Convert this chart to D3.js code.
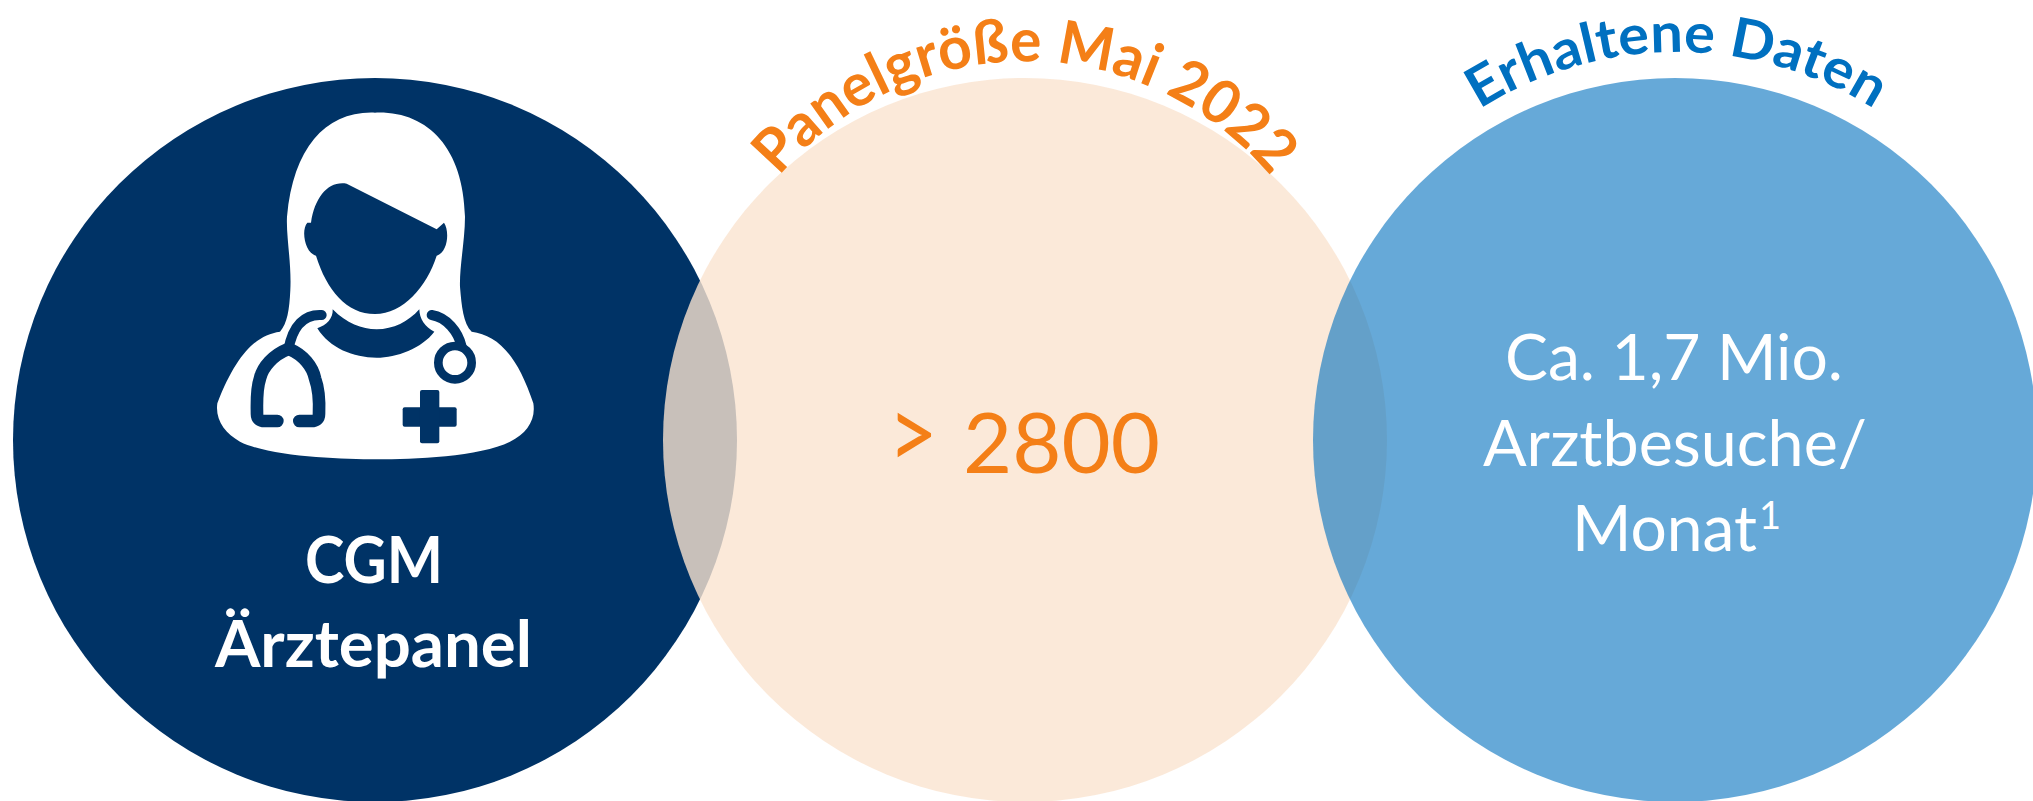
<!DOCTYPE html>
<html lang="de">
<head>
<meta charset="utf-8">
<title>CGM Ärztepanel</title>
<script src="https://cdn.jsdelivr.net/npm/d3@7/dist/d3.min.js"></script>
<style>
html,body{margin:0;padding:0;background:#fff;overflow:hidden}
svg{display:block}
text{font-family:Lato,"Noto Sans",sans-serif}
</style>
</head>
<body>
<div id="chart"></div>
<script>
const categories = ["panel", "size", "data"];
const circleFills = ["#003366", "#FAE3CF", "#0070BE"];
const circleOpacities = [1, 0.8, 0.6];
const arcTitles = ["Panelgröße Mai 2022", "Erhaltene Daten"];
const panelLines = ["CGM", "Ärztepanel"];
const sizeParts = [">", "2800"];
const dataLines = ["Ca. 1,7 Mio.", "Arztbesuche/"];
const monthLine = "Monat";
const footnoteMark = "1";

const W = 2033, H = 801, R = 362, CY = 440;
const svg = d3.select("#chart").append("svg").attr("width", W).attr("height", H).attr("viewBox", [0, 0, W, H]);
const x = d3.scalePoint().domain(categories).range([375, 1675]);

svg.selectAll("circle.venn").data(categories).join("circle")
  .attr("class", "venn")
  .attr("cx", d => x(d)).attr("cy", CY).attr("r", R)
  .attr("fill", (d, i) => circleFills[i])
  .attr("fill-opacity", (d, i) => circleOpacities[i]);

function line(str, left, width, base, size, weight, fill) {
  return svg.append("text").attr("x", left).attr("y", base)
    .attr("font-size", size).attr("font-weight", weight).attr("fill", fill)
    .attr("textLength", width).attr("lengthAdjust", "spacingAndGlyphs").text(str);
}
line(panelLines[0], 305, 138, 583, 65, 700, "#fff");
line(panelLines[1], 215, 317, 667, 65, 700, "#fff");
const s = svg.append("text").attr("y", 473).attr("fill", "#F47F17").attr("font-size", 84);
s.append("tspan").attr("x", 888).attr("y", 469).attr("font-size", 100).attr("textLength", 50).attr("lengthAdjust", "spacingAndGlyphs").text(sizeParts[0]);
s.append("tspan").attr("x", 963).attr("y", 473).attr("textLength", 197).attr("lengthAdjust", "spacingAndGlyphs").text(sizeParts[1]);
line(dataLines[0], 1505, 338, 380, 63, 400, "#fff");
line(dataLines[1], 1483, 384, 466, 63, 400, "#fff");
const m = svg.append("text").attr("y", 551).attr("fill", "#fff").attr("font-size", 63);
m.append("tspan").attr("x", 1572).attr("textLength", 185).attr("lengthAdjust", "spacingAndGlyphs").text(monthLine);
m.append("tspan").attr("x", 1759).attr("y", 529).attr("font-size", 38).text(footnoteMark);

const defs = svg.append("defs");
function arc(id, str, cx, cy, r, half, size, fill, len) {
  const extra = 0.35;
  const a0 = -Math.PI / 2 - half - extra, a1 = -Math.PI / 2 + half + extra;
  const p = d3.path();
  p.arc(cx, cy, r, a0, a1);
  defs.append("path").attr("id", id).attr("d", p.toString());
  svg.append("text").attr("font-size", size).attr("font-weight", 700).attr("fill", fill)
    .append("textPath").attr("href", "#" + id).attr("startOffset", extra * r)
    .attr("textLength", len).attr("lengthAdjust", "spacingAndGlyphs").text(str);
}
arc("a1", arcTitles[0], 1025, 382, 320.6, 0.875, 60, "#F47F17", 561);
arc("a2", arcTitles[1], 1677, 421, 369, 0.565, 55, "#0070C0", 416);

// doctor pictogram, traced in crop units
const icon = svg.append("g").attr("transform", "translate(180,90) scale(0.33333)");
const navy = circleFills[0];
icon.append("path").attr("fill", "#fff").attr("d",
 "M585,68 C440,62 340,170 321,380 C318,440 335,520 331,600 C328,660 322,700 300,725 C230,735 170,790 112,940 C105,990 135,1030 180,1055 C270,1100 480,1108 590,1108 C700,1108 900,1100 990,1055 C1040,1030 1068,990 1060,940 C1010,790 950,735 875,725 C850,700 845,650 840,590 C838,530 855,450 855,380 C850,170 740,62 585,68 Z");
icon.append("path").attr("fill", navy).attr("d",
 "M500,281 L770,418 L792,398 C808,420 806,485 770,497 C740,590 670,672 585,672 C500,672 440,600 408,497 C375,490 362,420 382,398 L393,398 C405,320 445,272 500,281 Z");
icon.append("path").attr("fill", navy).attr("d",
 "M412,715 C440,705 460,685 458,658 C500,700 545,718 590,718 C640,718 685,695 718,658 C718,685 735,712 763,725 C725,775 650,803 590,803 C520,803 450,775 412,715 Z");
const tube = [
 {d:"M425,675 C375,672 338,705 325,780", w:30},
 {d:"M322,778 C280,795 248,830 240,865 C228,900 231,950 231,972 Q231,994 256,993 L292,993", w:38},
 {d:"M330,778 C370,795 398,830 405,865 C418,900 418,950 417,972 Q417,994 392,993 L358,993", w:38},
 {d:"M755,675 C800,682 835,725 845,770", w:30}
];
icon.selectAll("path.tube").data(tube).join("path").attr("class","tube")
  .attr("fill","none").attr("stroke",navy).attr("stroke-linecap","round")
  .attr("stroke-width",d=>d.w).attr("d",d=>d.d);
icon.append("circle").attr("cx",825).attr("cy",818).attr("r",50).attr("fill","#fff").attr("stroke",navy).attr("stroke-width",26);
icon.append("rect").attr("x",668).attr("y",952).attr("width",162).attr("height",58).attr("rx",6).attr("fill",navy);
icon.append("rect").attr("x",720).attr("y",900).attr("width",58).attr("height",160).attr("rx",6).attr("fill",navy);
</script>
</body>
</html>
